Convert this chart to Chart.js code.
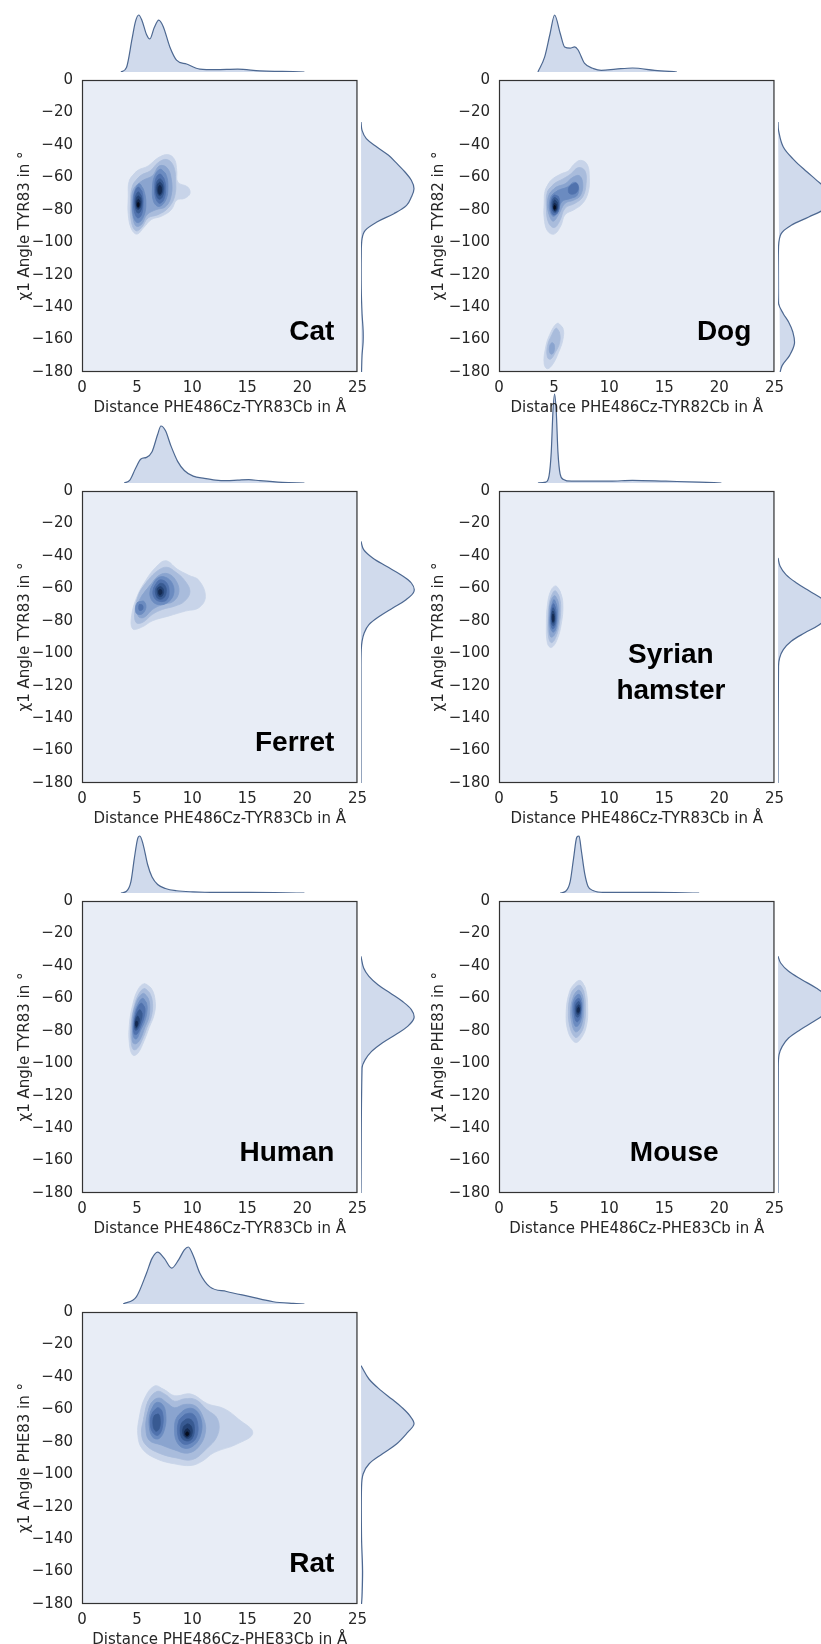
<!DOCTYPE html>
<html>
<head>
<meta charset="utf-8">
<script src="https://cdn.jsdelivr.net/npm/chart.js@4"></script>
<style>
  body { margin: 0; background: #ffffff; width: 821px; height: 1644px; position: relative; overflow: hidden; }
  canvas { position: absolute; }
</style>
</head>
<body>
<script>
// ---- data ----
const panelNames = ['Cat', 'Dog', 'Ferret', 'Syrian hamster', 'Human', 'Mouse', 'Rat'];
const xTitles = [
    'Distance PHE486Cz-TYR83Cb in Å', 'Distance PHE486Cz-TYR82Cb in Å',
    'Distance PHE486Cz-TYR83Cb in Å', 'Distance PHE486Cz-TYR83Cb in Å',
    'Distance PHE486Cz-TYR83Cb in Å', 'Distance PHE486Cz-PHE83Cb in Å',
    'Distance PHE486Cz-PHE83Cb in Å'
];
const yTitles = [
    'χ1 Angle TYR83 in °', 'χ1 Angle TYR82 in °', 'χ1 Angle TYR83 in °', 'χ1 Angle TYR83 in °',
    'χ1 Angle TYR83 in °', 'χ1 Angle PHE83 in °', 'χ1 Angle PHE83 in °'
];
const xTicks = [0, 5, 10, 15, 20, 25];
const yTicks = [0, -20, -40, -60, -80, -100, -120, -140, -160, -180];

// species label: lines, anchor x (Å), baseline of last line (°), alignment
const labelLines = [['Cat'], ['Dog'], ['Ferret'], ['Syrian', 'hamster'], ['Human'], ['Mouse'], ['Rat']];
const labelX = [22.9, 22.9, 22.9, 15.6, 22.9, 15.9, 22.9];
const labelY = [-160, -160, -160, -128, -160, -160, -160];
const labelAlign = ['right', 'right', 'right', 'center', 'right', 'center', 'right'];

// top marginal densities (distance)
const catTopX = [3.5, 4, 4.5, 4.8, 5.1, 5.4, 5.8, 6.1, 6.5, 6.9, 7.3, 7.9, 8.5, 9.4, 10.6, 12, 14, 16, 18, 20];
const catTopD = [0, 0.08, 0.58, 0.88, 1.0, 0.9, 0.66, 0.58, 0.78, 0.91, 0.8, 0.44, 0.21, 0.14, 0.05, 0.04, 0.05, 0.02, 0.01, 0];
const dogTopX = [3.5, 4.1, 4.6, 5.0, 5.5, 5.9, 6.4, 6.8, 7.1, 7.7, 8.5, 9.2, 10.5, 12, 14, 16];
const dogTopD = [0, 0.26, 0.68, 1.0, 0.68, 0.44, 0.42, 0.44, 0.39, 0.15, 0.06, 0.03, 0.05, 0.07, 0.03, 0];
const ferretTopX = [3.8, 4.3, 4.8, 5.3, 5.8, 6.3, 6.8, 7.1, 7.5, 8.0, 8.6, 9.2, 10, 11, 12, 13, 14, 15, 16, 18, 20];
const ferretTopD = [0, 0.05, 0.25, 0.42, 0.45, 0.55, 0.85, 1.0, 0.92, 0.65, 0.38, 0.22, 0.12, 0.08, 0.05, 0.04, 0.05, 0.06, 0.04, 0.01, 0];
const hamsterTopX = [3.5, 4.2, 4.5, 4.7, 4.85, 5.0, 5.15, 5.3, 5.5, 5.8, 6.5, 8, 10, 12, 15, 18, 20];
const hamsterTopD = [0, 0.01, 0.08, 0.35, 0.8, 1.0, 0.8, 0.35, 0.1, 0.04, 0.02, 0.02, 0.02, 0.03, 0.02, 0.01, 0];
const humanTopX = [3.5, 4.0, 4.4, 4.7, 5.0, 5.2, 5.5, 5.9, 6.3, 6.8, 7.5, 8.5, 10, 12, 15, 20];
const humanTopD = [0, 0.03, 0.2, 0.6, 0.95, 1.0, 0.85, 0.5, 0.28, 0.15, 0.08, 0.04, 0.02, 0.01, 0.01, 0];
const mouseTopX = [5.5, 6.0, 6.4, 6.7, 7.0, 7.2, 7.4, 7.7, 8.0, 8.5, 9.5, 11, 14, 18];
const mouseTopD = [0, 0.03, 0.2, 0.6, 0.98, 1.0, 0.75, 0.35, 0.12, 0.04, 0.01, 0.01, 0.01, 0];
const ratTopX = [3.7, 4.9, 5.8, 6.3, 6.8, 7.4, 8.07, 8.7, 9.2, 9.56, 10.0, 10.6, 11.5, 13.0, 15.1, 17.2, 19, 20];
const ratTopD = [0, 0.13, 0.54, 0.8, 0.91, 0.8, 0.63, 0.78, 0.95, 1.0, 0.85, 0.54, 0.3, 0.22, 0.13, 0.04, 0.01, 0];

// right marginal densities (angle)
const catSideY = [-30, -35, -40, -45, -50, -55, -60, -65, -70, -75, -80, -85, -90, -95, -100, -110, -130, -145, -155, -162, -170, -180];
const catSideD = [0, 0.02, 0.1, 0.3, 0.52, 0.68, 0.83, 0.95, 1.0, 0.95, 0.86, 0.62, 0.3, 0.08, 0.02, 0.005, 0.005, 0.02, 0.04, 0.04, 0.02, 0.01];
const dogSideY = [-30, -35, -45, -53, -60, -65, -70, -76, -82, -87, -92, -97, -105, -130, -139, -145, -150, -156, -163, -170, -176, -180];
const dogSideD = [0, 0.01, 0.1, 0.31, 0.55, 0.73, 0.9, 1.0, 0.88, 0.58, 0.25, 0.06, 0.01, 0, 0.01, 0.1, 0.2, 0.28, 0.31, 0.22, 0.08, 0.04];
const ferretSideY = [-35, -40, -45, -50, -55, -60, -65, -70, -75, -80, -85, -90, -95, -100, -110, -180];
const ferretSideD = [0, 0.05, 0.22, 0.48, 0.75, 0.95, 1.0, 0.85, 0.6, 0.35, 0.15, 0.06, 0.02, 0.005, 0, 0];
const hamsterSideY = [-45, -50, -55, -60, -65, -70, -75, -80, -85, -90, -95, -100, -105, -110, -180];
const hamsterSideD = [0, 0.04, 0.15, 0.35, 0.6, 0.85, 0.98, 0.95, 0.78, 0.5, 0.25, 0.1, 0.03, 0.01, 0];
const humanSideY = [-38, -45, -50, -55, -60, -65, -70, -75, -80, -85, -90, -95, -100, -105, -180];
const humanSideD = [0, 0.05, 0.15, 0.32, 0.55, 0.78, 0.95, 1.0, 0.88, 0.65, 0.4, 0.2, 0.08, 0.02, 0];
const mouseSideY = [-38, -42, -47, -52, -57, -62, -67, -72, -77, -82, -87, -92, -97, -105, -180];
const mouseSideD = [0, 0.05, 0.2, 0.45, 0.72, 0.93, 1.0, 0.9, 0.68, 0.42, 0.2, 0.08, 0.02, 0.005, 0];
const ratSideY = [-37, -45, -52, -57, -62, -67, -72, -77, -84, -90, -96, -102, -110, -140, -160, -175, -180];
const ratSideD = [0, 0.15, 0.38, 0.58, 0.77, 0.92, 1.0, 0.88, 0.67, 0.4, 0.15, 0.04, 0.01, 0.01, 0.03, 0.02, 0.01];

// KDE contour outlines: [level, [x, y, x, y, ...]]
const catContours = [
    [1, [4.3,-62, 5.0,-56, 6.0,-53, 6.9,-48, 7.8,-46, 8.4,-49, 8.6,-56, 8.7,-63, 9.6,-66, 9.8,-70, 9.3,-73, 8.6,-74, 8.1,-80, 7.2,-84, 6.3,-86, 5.6,-91, 5.0,-95, 4.5,-92, 4.2,-83, 4.2,-72]],
    [2, [4.6,-65, 5.3,-59, 6.2,-56, 6.9,-51, 7.7,-49, 8.3,-53, 8.5,-62, 8.4,-72, 7.8,-79, 6.9,-83, 6.0,-85, 5.4,-91, 4.9,-93, 4.5,-88, 4.4,-76]],
    [3, [4.7,-67, 5.5,-62, 6.4,-59, 7.0,-53, 7.7,-54, 8.1,-61, 8.1,-71, 7.6,-78, 6.7,-80, 5.9,-83, 5.4,-89, 4.9,-90, 4.6,-84, 4.5,-75]],
    [4, [5.2,-64, 5.6,-68, 5.8,-76, 5.6,-84, 5.1,-88, 4.7,-85, 4.6,-76, 4.8,-68]],
    [4, [7.1,-55, 7.6,-58, 7.8,-66, 7.6,-74, 7.0,-78, 6.5,-75, 6.4,-66, 6.6,-59]],
    [5, [5.1,-66, 5.45,-69, 5.55,-76, 5.4,-83, 5.05,-85, 4.75,-81, 4.7,-74, 4.8,-69]],
    [5, [7.1,-58, 7.45,-61, 7.6,-67, 7.4,-74, 7.0,-76, 6.65,-72, 6.6,-65, 6.75,-60]],
    [6, [5.12,-69, 5.4,-72, 5.45,-77, 5.3,-81, 5.05,-82, 4.85,-79, 4.8,-74, 4.9,-71]],
    [6, [7.1,-61, 7.35,-63, 7.45,-67, 7.3,-72, 7.0,-73.5, 6.75,-71, 6.7,-66, 6.85,-62]],
    [7, [5.12,-71.5, 5.32,-73, 5.35,-77, 5.2,-79.5, 5.0,-79.5, 4.9,-77, 4.9,-74, 5.0,-72]],
    [7, [7.08,-63, 7.3,-65, 7.32,-68.5, 7.15,-71, 6.95,-71, 6.82,-68.5, 6.82,-65, 6.95,-63.5]],
    [8, [5.12,-73.5, 5.25,-75, 5.25,-77.5, 5.1,-79, 4.97,-77.5, 4.97,-75]],
    [8, [7.07,-65, 7.2,-66.5, 7.2,-69, 7.05,-70.5, 6.92,-69, 6.92,-66.5]],
    [9, [5.1,-75.5, 5.18,-76.5, 5.15,-78, 5.05,-78, 5.02,-76.5]]
];
const dogContours = [
    [1, [4.2,-68, 4.7,-62, 5.6,-58, 6.3,-56, 6.8,-52, 7.4,-49.5, 8.0,-52, 8.2,-60, 8.1,-69, 7.6,-76, 6.8,-80, 6.0,-83, 5.6,-90, 5.0,-95, 4.4,-93, 4.1,-85, 4.1,-76]],
    [2, [4.4,-69, 5.0,-64, 5.8,-61, 6.5,-58, 7.2,-54, 7.8,-56, 7.9,-64, 7.6,-72, 6.9,-76, 6.0,-79, 5.5,-87, 5.0,-91, 4.5,-88, 4.3,-79]],
    [3, [4.6,-70, 5.2,-66, 6.0,-64, 6.7,-60, 7.3,-59, 7.6,-64, 7.4,-71, 6.8,-74, 6.0,-76, 5.4,-83, 4.9,-87, 4.5,-82, 4.4,-76]],
    [4, [4.8,-71, 5.4,-68, 6.2,-66, 6.8,-63, 7.2,-65, 7.1,-71, 6.5,-73, 5.7,-75, 5.3,-82, 4.9,-84, 4.6,-80, 4.6,-75]],
    [5, [5.0,-71, 5.4,-72, 5.5,-77, 5.3,-82, 4.9,-83, 4.7,-79, 4.75,-74]],
    [5, [6.5,-65, 7.0,-63.5, 7.2,-67, 6.9,-70, 6.4,-70, 6.3,-67]],
    [6, [5.05,-72.5, 5.35,-74, 5.4,-78, 5.2,-81.5, 4.9,-81, 4.8,-77, 4.85,-74]],
    [7, [5.05,-74, 5.28,-75.5, 5.3,-79, 5.1,-81, 4.92,-79.5, 4.9,-76]],
    [8, [5.05,-76, 5.2,-77, 5.2,-79.5, 5.05,-80.5, 4.95,-79, 4.95,-77]],
    [9, [5.05,-77.3, 5.13,-78.2, 5.1,-79.5, 5.0,-79.5, 4.98,-78.2]],
    [1, [5.3,-150, 5.8,-153, 5.8,-160, 5.4,-168, 4.9,-175, 4.4,-178, 4.1,-175, 4.2,-166, 4.6,-157]],
    [2, [5.2,-153, 5.5,-156, 5.5,-162, 5.1,-168, 4.7,-172, 4.4,-171, 4.4,-164, 4.8,-157]],
    [3, [4.8,-162, 5.0,-163, 5.0,-167, 4.8,-169, 4.6,-168, 4.6,-164]]
];
const ferretContours = [
    [1, [7.6,-43, 8.6,-48, 9.7,-52, 10.6,-55, 11.2,-65, 10.6,-72, 9.4,-74, 7.9,-77, 6.4,-80, 5.4,-84, 4.6,-85, 4.5,-77, 5.0,-65, 5.8,-55, 6.7,-47]],
    [2, [5.2,-63, 6.0,-55, 6.9,-49, 7.7,-47, 8.5,-50, 9.3,-55, 9.8,-62, 9.3,-68, 8.4,-71, 7.3,-73, 6.4,-76, 5.5,-81, 4.9,-81, 4.8,-74]],
    [3, [5.4,-65, 6.2,-58, 7.0,-52, 7.8,-51, 8.5,-55, 8.8,-62, 8.3,-68, 7.3,-70, 6.4,-73, 5.6,-78, 5.1,-77, 5.1,-70]],
    [4, [6.2,-61, 6.8,-54, 7.5,-53, 8.2,-57, 8.3,-64, 7.7,-69, 6.9,-70, 6.3,-67]],
    [4, [5.0,-69, 5.6,-68, 5.8,-72, 5.4,-76, 4.9,-75]],
    [5, [5.2,-70, 5.5,-70.5, 5.5,-73, 5.2,-73.5]],
    [5, [6.5,-60, 7.0,-55, 7.6,-56, 7.9,-61, 7.7,-67, 7.0,-68, 6.5,-65]],
    [6, [6.7,-60, 7.1,-57, 7.5,-58, 7.65,-62, 7.4,-66, 6.95,-66.5, 6.7,-64]],
    [7, [6.85,-60, 7.15,-59, 7.4,-61, 7.3,-64.5, 7.0,-65, 6.85,-63]],
    [8, [7.0,-61, 7.2,-61, 7.25,-63, 7.05,-64, 6.95,-62.5]]
];
const hamsterContours = [
    [1, [5.15,-58.5, 5.55,-62, 5.8,-70, 5.65,-82, 5.25,-92, 4.75,-96.5, 4.4,-94, 4.3,-82, 4.4,-70, 4.7,-61.5]],
    [2, [5.1,-61.5, 5.45,-65, 5.6,-72, 5.45,-83, 5.1,-91, 4.75,-93.5, 4.5,-90, 4.45,-80, 4.55,-70, 4.8,-64]],
    [3, [5.05,-64.5, 5.35,-68, 5.45,-74, 5.3,-84, 5.0,-89, 4.7,-90, 4.55,-85, 4.55,-76, 4.7,-68]],
    [4, [5.0,-67, 5.25,-71, 5.3,-77, 5.15,-85, 4.9,-87, 4.65,-84, 4.65,-75, 4.8,-70]],
    [5, [4.95,-69.5, 5.15,-73, 5.2,-79, 5.05,-84, 4.85,-85, 4.7,-81, 4.72,-75, 4.82,-71]],
    [6, [4.92,-72, 5.08,-75, 5.1,-80, 4.98,-83, 4.82,-82.5, 4.75,-78, 4.8,-74]],
    [7, [4.9,-74, 5.02,-76.5, 5.02,-80.5, 4.9,-81.5, 4.8,-79, 4.82,-75.5]],
    [8, [4.9,-76, 4.98,-77.5, 4.97,-80, 4.88,-80.5, 4.84,-78]]
];
const humanContours = [
    [1, [5.65,-51, 6.3,-54, 6.65,-62, 6.55,-70, 6.1,-78, 5.65,-86, 5.05,-94, 4.6,-95, 4.3,-88, 4.3,-76, 4.6,-64, 5.05,-55]],
    [2, [5.65,-54, 6.15,-57, 6.4,-63, 6.3,-71, 5.9,-78, 5.5,-85, 5.0,-91, 4.65,-91.5, 4.45,-86, 4.45,-76, 4.7,-66, 5.1,-58]],
    [3, [5.6,-57, 6.0,-60, 6.15,-65, 6.05,-72, 5.7,-78, 5.3,-85, 4.9,-88, 4.6,-87, 4.55,-80, 4.6,-71, 4.9,-63, 5.2,-59]],
    [4, [5.5,-60, 5.85,-63, 5.9,-68, 5.7,-74, 5.3,-80, 4.95,-85, 4.7,-84, 4.62,-78, 4.75,-70, 5.05,-64]],
    [5, [5.4,-63, 5.7,-66, 5.65,-71, 5.35,-77, 5.0,-82, 4.75,-82, 4.7,-77, 4.85,-70, 5.1,-65]],
    [6, [5.25,-67, 5.45,-69.5, 5.35,-74, 5.05,-79, 4.82,-79.5, 4.78,-75, 4.95,-70]],
    [7, [5.05,-71, 5.2,-73, 5.1,-76.5, 4.9,-78.5, 4.82,-76, 4.88,-73]],
    [8, [4.97,-74, 5.05,-75.5, 4.95,-77.5, 4.86,-76.5, 4.88,-74.5]]
];
const mouseContours = [
    [1, [7.4,-49, 7.85,-54, 8.05,-66, 7.9,-78, 7.3,-86, 6.85,-87, 6.25,-80, 6.1,-68, 6.4,-56, 6.85,-51]],
    [2, [7.35,-52, 7.7,-56, 7.85,-66, 7.7,-77, 7.25,-83, 6.9,-84, 6.45,-78, 6.3,-68, 6.5,-58, 6.9,-53.5]],
    [3, [7.3,-55, 7.6,-59, 7.7,-66, 7.55,-75, 7.2,-80, 6.9,-80.5, 6.6,-75, 6.5,-67, 6.7,-60, 7.0,-56]],
    [4, [7.25,-57.5, 7.5,-61, 7.55,-67, 7.45,-73, 7.15,-77, 6.9,-77, 6.7,-72, 6.65,-66, 6.85,-60]],
    [5, [7.25,-60, 7.45,-63, 7.45,-68, 7.3,-73, 7.05,-74.5, 6.85,-71, 6.8,-65, 6.95,-61.5]],
    [6, [7.25,-62, 7.4,-65, 7.38,-69, 7.2,-71.5, 7.0,-71, 6.92,-67, 7.0,-63.5]],
    [7, [7.25,-64, 7.35,-66, 7.3,-69, 7.15,-70, 7.03,-68.5, 7.05,-65.5]],
    [8, [7.22,-65.5, 7.3,-67, 7.25,-68.5, 7.12,-68.5, 7.1,-67]]
];
const ratContours = [
    [1, [6.6,-45.6, 7.5,-48, 8.4,-51.6, 9.9,-50.6, 11.4,-56.6, 12.9,-59.6, 14.2,-66, 15.5,-74.6, 14.0,-81.6, 12.0,-86.6, 10.9,-92, 9.9,-94.6, 8.4,-93.6, 6.8,-90.6, 5.5,-84.6, 5.07,-76, 5.2,-65, 5.7,-53]],
    [2, [5.6,-66, 6.0,-55, 6.8,-49, 7.6,-51, 8.4,-55, 9.3,-53.5, 10.3,-54, 11.3,-60, 12.3,-66, 12.3,-76, 11.2,-85, 10.0,-91, 8.6,-90, 7.0,-87, 5.8,-82, 5.4,-75]],
    [3, [5.9,-64, 6.3,-56, 7.0,-53, 7.7,-56, 8.4,-59, 9.3,-57, 10.3,-58, 11.0,-65, 11.2,-74, 10.6,-83, 9.6,-87, 8.4,-85, 7.2,-82, 6.1,-79, 5.8,-72]],
    [4, [6.2,-62, 6.7,-56, 7.3,-57, 7.6,-63, 7.5,-72, 7.0,-78, 6.4,-77, 6.1,-70]],
    [4, [8.6,-65, 9.4,-60, 10.2,-60, 10.8,-66, 10.8,-75, 10.2,-82, 9.3,-84, 8.6,-80, 8.4,-72]],
    [5, [6.4,-62, 6.9,-59, 7.3,-62, 7.3,-71, 6.9,-76, 6.4,-74, 6.2,-68]],
    [5, [8.8,-67, 9.4,-63, 10.1,-63, 10.5,-69, 10.4,-77, 9.8,-81, 9.1,-81, 8.7,-76]],
    [6, [6.55,-64, 6.95,-63, 7.1,-67, 7.0,-72, 6.7,-73.5, 6.45,-70]],
    [6, [9.0,-69, 9.5,-66, 10.0,-67, 10.2,-72, 10.0,-78, 9.5,-79.5, 9.0,-77]],
    [7, [9.2,-71, 9.6,-69, 9.95,-71, 9.95,-76, 9.6,-78, 9.2,-76]],
    [8, [9.35,-73, 9.6,-72, 9.8,-74, 9.7,-76.5, 9.45,-77, 9.3,-75]],
    [9, [9.45,-74.3, 9.6,-74, 9.68,-75.3, 9.55,-76.2, 9.42,-75.6]]
];

const topX = [catTopX, dogTopX, ferretTopX, hamsterTopX, humanTopX, mouseTopX, ratTopX];
const topD = [catTopD, dogTopD, ferretTopD, hamsterTopD, humanTopD, mouseTopD, ratTopD];
const sideY = [catSideY, dogSideY, ferretSideY, hamsterSideY, humanSideY, mouseSideY, ratSideY];
const sideD = [catSideD, dogSideD, ferretSideD, hamsterSideD, humanSideD, mouseSideD, ratSideD];
const contours = [catContours, dogContours, ferretContours, hamsterContours, humanContours, mouseContours, ratContours];

// ---- styling / layout ----
const levelColors = ['#e8edf6', '#c8d4e9', '#a9bcdc', '#8aa4cf', '#6b8bc0', '#5072ad', '#385a92', '#244274', '#142a50', '#060e1f'];
const margFill = '#d0daec';
const margLine = '#4d6891';
const textColor = '#262626';
const tickFont = { family: 'DejaVu Sans', size: 15 };

const plotLeft = [82, 499];
const canvasLeft = [0, 414];
const plotTop = [72, 483, 893, 1304];
const PW = 278, PH = 300;
const topHeight = [60, 60, 60, 92, 60, 60, 60];
const SIDE_W = 58;

Chart.defaults.font.family = 'DejaVu Sans';

function makeCanvas(l, t, w, h) {
    const c = document.createElement('canvas');
    c.width = w; c.height = h;
    c.style.left = l + 'px'; c.style.top = t + 'px';
    c.style.width = w + 'px'; c.style.height = h + 'px';
    document.body.appendChild(c);
    return c;
}

function closedPoints(flat) {
    const p = [];
    for (let k = 0; k < flat.length; k += 2) p.push({ x: flat[k], y: flat[k + 1] });
    return p.concat([p[0], p[1]]); // wrap round so the curve closes smoothly
}

const fmt = v => v < 0 ? '\u2212' + (-v) : String(v);

const bareOptions = {
    responsive: false,
    animation: false,
    events: [],
    layout: { autoPadding: false, padding: 0 },
    plugins: { legend: { display: false }, tooltip: { enabled: false } }
};

function frameAndLabel(i) {
    return {
        id: 'frameAndLabel' + i,
        beforeDatasetsDraw(chart) {
            const { ctx, chartArea: a } = chart;
            ctx.save();
            ctx.fillStyle = levelColors[0];
            ctx.fillRect(a.left, a.top, a.right - a.left, a.bottom - a.top);
            ctx.restore();
        },
        afterDatasetsDraw(chart) {
            const { ctx, chartArea: a, scales } = chart;
            ctx.save();
            ctx.strokeStyle = '#333333';
            ctx.lineWidth = 1.2;
            ctx.strokeRect(a.left + 0.5, a.top + 0.5, a.right - a.left - 1, a.bottom - a.top - 1);
            // species name
            ctx.fillStyle = '#000000';
            ctx.font = 'bold 28px "Liberation Sans", Arial, sans-serif';
            ctx.textAlign = labelAlign[i];
            ctx.textBaseline = 'alphabetic';
            const lines = labelLines[i];
            const x = scales.x.getPixelForValue(labelX[i]);
            const yb = scales.y.getPixelForValue(labelY[i]);
            lines.forEach((t, k) => ctx.fillText(t, x, yb - (lines.length - 1 - k) * 36));
            ctx.restore();
        }
    };
}

function topChart(i, pl, pt) {
    const h = topHeight[i];
    const c = makeCanvas(pl, pt - h, PW, h);
    new Chart(c, {
        type: 'line',
        data: {
            datasets: [{
                data: topX[i].map((x, k) => ({ x: x, y: topD[i][k] })),
                fill: 'origin',
                backgroundColor: margFill,
                borderColor: margLine,
                borderWidth: 1.2,
                pointRadius: 0,
                cubicInterpolationMode: 'monotone'
            }]
        },
        options: Object.assign({}, bareOptions, {
            scales: {
                x: { type: 'linear', min: 0, max: 25, display: false },
                y: { type: 'linear', min: 0, max: h / (h - 3), display: false }
            }
        })
    });
}

function sideChart(i, pl, pt) {
    const c = makeCanvas(pl + PW + 1, pt, SIDE_W, PH);
    new Chart(c, {
        type: 'line',
        data: {
            datasets: [{
                data: sideY[i].map((y, k) => ({ x: sideD[i][k], y: y })),
                fill: 'shape',
                backgroundColor: margFill,
                borderColor: margLine,
                borderWidth: 1.2,
                pointRadius: 0,
                tension: 0.35
            }]
        },
        options: Object.assign({}, bareOptions, {
            scales: {
                x: { type: 'linear', min: 0, max: SIDE_W / 53, display: false },
                y: { type: 'linear', min: -180, max: 0, display: false }
            }
        })
    });
}

function mainChart(i, col, pl, pt) {
    const cl = canvasLeft[col];
    const c = makeCanvas(cl, pt - 10, pl + PW + 14 - cl, 10 + PH + 45);
    const datasets = contours[i].map(([lv, flat]) => ({
        data: closedPoints(flat),
        fill: 'shape',
        backgroundColor: levelColors[lv],
        borderColor: levelColors[lv],
        borderWidth: 0.8,
        pointRadius: 0,
        tension: 0.4,
        order: -lv
    }));
    new Chart(c, {
        type: 'line',
        data: { datasets },
        options: Object.assign({}, bareOptions, {
            layout: { autoPadding: false, padding: { top: 10, right: 14, left: 0, bottom: 0 } },
            scales: {
                x: {
                    type: 'linear', min: 0, max: 25,
                    grid: { display: false, drawTicks: false }, border: { display: false },
                    afterBuildTicks: s => { s.ticks = xTicks.map(v => ({ value: v })); },
                    afterFit: s => { s.height = 45; },
                    ticks: { padding: 7, font: tickFont, color: textColor, maxRotation: 0, autoSkip: false, callback: fmt },
                    title: { display: true, text: xTitles[i], font: tickFont, color: textColor, padding: { top: 0, bottom: 0 } }
                },
                y: {
                    type: 'linear', min: -180, max: 0,
                    grid: { display: false, drawTicks: false }, border: { display: false },
                    afterBuildTicks: s => { s.ticks = yTicks.map(v => ({ value: v })); },
                    afterFit: s => { s.width = pl - cl; },
                    ticks: { padding: 9, font: tickFont, color: textColor, autoSkip: false, callback: fmt },
                    title: { display: true, text: yTitles[i], font: tickFont, color: textColor, padding: { top: 16, bottom: 0 } }
                }
            }
        }),
        plugins: [frameAndLabel(i)]
    });
}

// marginals first, main panels on top
panelNames.forEach((name, i) => {
    const col = i % 2, row = Math.floor(i / 2);
    topChart(i, plotLeft[col], plotTop[row]);
    sideChart(i, plotLeft[col], plotTop[row]);
});
panelNames.forEach((name, i) => {
    const col = i % 2, row = Math.floor(i / 2);
    mainChart(i, col, plotLeft[col], plotTop[row]);
});
</script>
</body>
</html>
